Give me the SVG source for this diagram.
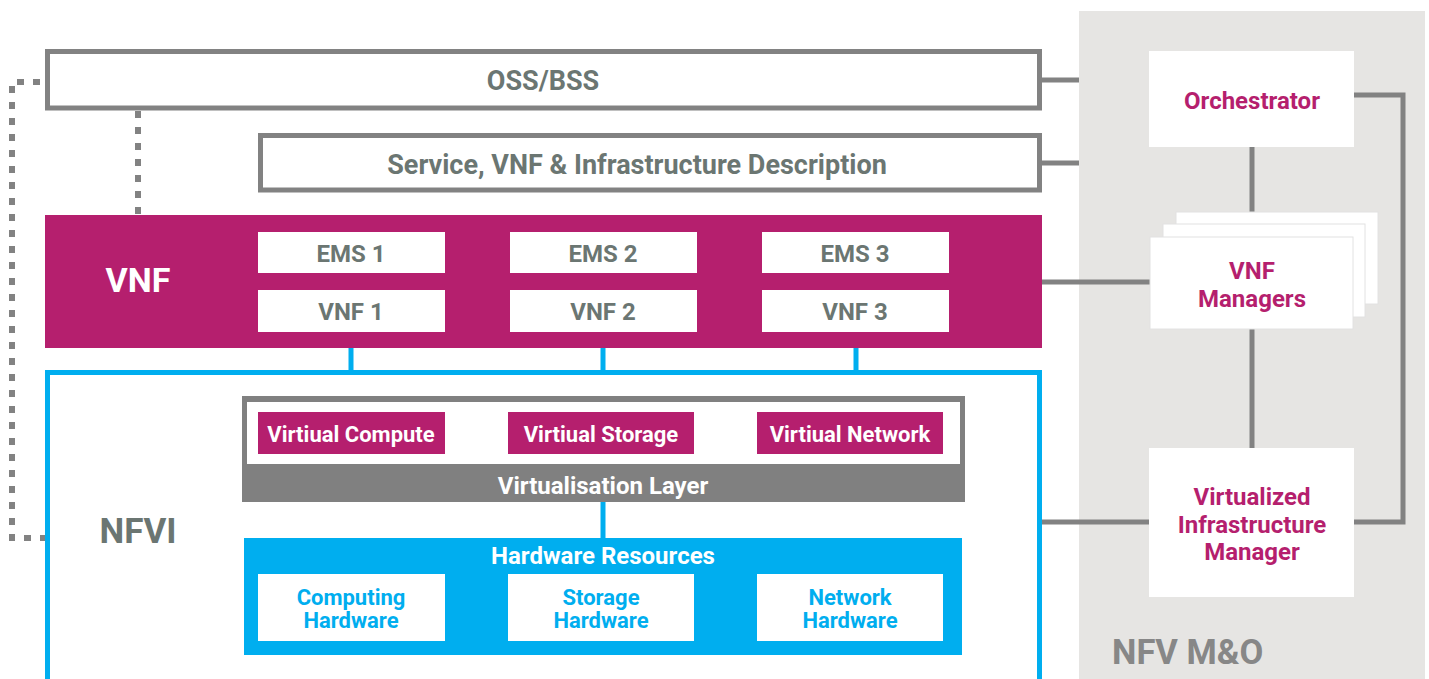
<svg xmlns="http://www.w3.org/2000/svg" width="1429" height="679" viewBox="0 0 1429 679">
<style>
text{font-family:Roboto,"Liberation Sans",sans-serif;font-weight:700;text-anchor:middle}
.gt{fill:#6b7672}
.wt{fill:#ffffff}
.mt{fill:#b51f6e}
.bt{fill:#00aeef}
.gl{stroke:#828282;stroke-width:5;fill:none}
.bl{stroke:#00aeef;stroke-width:5;fill:none}
.dot{stroke:#828282;stroke-width:6;fill:none;stroke-dasharray:7 9}
.wb{fill:#ffffff}
.mb{fill:#b51f6e}
</style>
<rect x="1079" y="11" width="346" height="668" fill="#e6e5e3"/>
<g id="connectors">
<path class="dot" d="M40 82 H12 V538 H45"/>
<path class="dot" d="M138 111 V215"/>
<path class="gl" d="M1042 80 H1079"/>
<path class="gl" d="M1042 163 H1079"/>
<path class="gl" d="M1042 282 H1150"/>
<path class="gl" d="M1042 522 H1149"/>
<path class="gl" d="M1252 147 V237"/>
<path class="gl" d="M1252 329 V448"/>
<path class="gl" d="M1354 95 H1403 V522 H1354"/>
<path class="bl" d="M351 332 V372 M603 332 V372 M856 332 V372"/>
<path class="bl" d="M603 502 V538"/>
<rect x="348" y="277" width="6" height="11" class="wb"/>
<rect x="600" y="277" width="6" height="11" class="wb"/>
<rect x="853" y="277" width="6" height="11" class="wb"/>
</g>
<g id="oss">
<rect x="47.5" y="51.5" width="992" height="56.5" fill="#fff" class="gl"/>
<text x="543" y="90" font-size="27" class="gt">OSS/BSS</text>
</g>
<g id="service">
<rect x="260.5" y="135.5" width="779" height="54.5" fill="#fff" class="gl"/>
<text x="637" y="174" font-size="27" class="gt">Service, VNF &amp; Infrastructure Description</text>
</g>
<g id="vnf-layer">
<rect x="45" y="215" width="997" height="133" class="mb"/>
<text x="138" y="292" font-size="34" class="wt">VNF</text>
</g>
<g id="ems1"><rect x="258" y="232" width="187" height="41" class="wb"/><text x="351" y="262" font-size="24" class="gt">EMS 1</text></g>
<g id="ems2"><rect x="510" y="232" width="187" height="41" class="wb"/><text x="603" y="262" font-size="24" class="gt">EMS 2</text></g>
<g id="ems3"><rect x="762" y="232" width="187" height="41" class="wb"/><text x="855" y="262" font-size="24" class="gt">EMS 3</text></g>
<g id="vnf1"><rect x="258" y="290" width="187" height="42" class="wb"/><text x="351" y="320" font-size="24" class="gt">VNF 1</text></g>
<g id="vnf2"><rect x="510" y="290" width="187" height="42" class="wb"/><text x="603" y="320" font-size="24" class="gt">VNF 2</text></g>
<g id="vnf3"><rect x="762" y="290" width="187" height="42" class="wb"/><text x="855" y="320" font-size="24" class="gt">VNF 3</text></g>
<g id="nfvi">
<rect x="47.5" y="372.5" width="992" height="320" fill="#fff" class="bl"/>
<text x="138" y="543" font-size="35" class="gt">NFVI</text>
</g>
<g id="virtualisation-layer">
<rect x="242" y="396" width="723" height="106" fill="#808080"/>
<rect x="247" y="402" width="713" height="62" class="wb"/>
<text x="603" y="494" font-size="24" class="wt">Virtualisation Layer</text>
</g>
<g id="vcompute"><rect x="258" y="412" width="187" height="42" class="mb"/><text x="351" y="442" font-size="22" class="wt">Virtiual Compute</text></g>
<g id="vstorage"><rect x="508" y="412" width="186" height="42" class="mb"/><text x="601" y="442" font-size="22" class="wt">Virtiual Storage</text></g>
<g id="vnetwork"><rect x="757" y="412" width="186" height="42" class="mb"/><text x="850" y="442" font-size="22" class="wt">Virtiual Network</text></g>
<g id="hardware-resources">
<rect x="244" y="538" width="718" height="117" fill="#00aeef"/>
<text x="603" y="564" font-size="24" class="wt">Hardware Resources</text>
</g>
<g id="chw"><rect x="258" y="574" width="187" height="67" class="wb"/><text x="351" y="605" font-size="22" class="bt">Computing</text><text x="351" y="628" font-size="22" class="bt">Hardware</text></g>
<g id="shw"><rect x="508" y="574" width="186" height="67" class="wb"/><text x="601" y="605" font-size="22" class="bt">Storage</text><text x="601" y="628" font-size="22" class="bt">Hardware</text></g>
<g id="nhw"><rect x="757" y="574" width="186" height="67" class="wb"/><text x="850" y="605" font-size="22" class="bt">Network</text><text x="850" y="628" font-size="22" class="bt">Hardware</text></g>
<g id="orchestrator">
<rect x="1149" y="51" width="205" height="96" class="wb"/>
<text x="1252" y="109" font-size="24" class="mt">Orchestrator</text>
</g>
<g id="vnf-managers">
<rect x="1176" y="212" width="202" height="92" fill="#fff" stroke="#e2e2e2" stroke-width="1"/>
<rect x="1163" y="224" width="202" height="93" fill="#fff" stroke="#e2e2e2" stroke-width="1"/>
<rect x="1150" y="237" width="203" height="92" fill="#fff" stroke="#e2e2e2" stroke-width="1"/>
<text x="1252" y="279" font-size="24" class="mt">VNF</text>
<text x="1252" y="307" font-size="24" class="mt">Managers</text>
</g>
<g id="vim">
<rect x="1149" y="448" width="205" height="149" class="wb"/>
<text x="1252" y="505" font-size="24" class="mt">Virtualized</text>
<text x="1252" y="533" font-size="24" class="mt">Infrastructure</text>
<text x="1252" y="560" font-size="24" class="mt">Manager</text>
</g>
<g id="nfv-mo">
<text x="1112" y="664" font-size="34.6" fill="#878787" style="text-anchor:start">NFV M&amp;O</text>
</g>
</svg>
